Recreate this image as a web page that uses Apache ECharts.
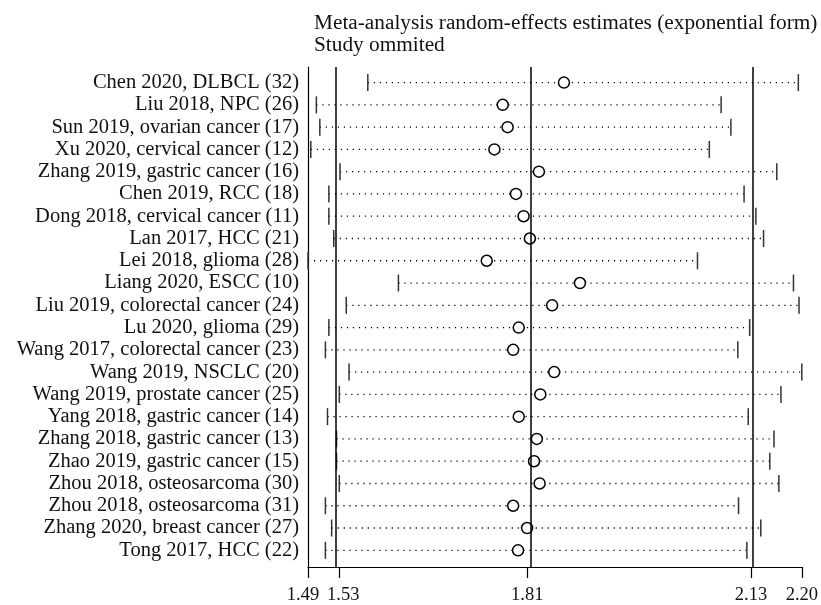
<!DOCTYPE html>
<html>
<head>
<meta charset="utf-8">
<script src="https://cdn.jsdelivr.net/npm/echarts@6/dist/echarts.min.js"></script>
<style>html,body{margin:0;padding:0;background:#fff;}#c{width:821px;height:605px;}</style>
</head>
<body>
<div id="c"></div>
<script>
var studies = ["Chen 2020, DLBCL (32)","Liu 2018, NPC (26)","Sun 2019, ovarian cancer (17)","Xu 2020, cervical cancer (12)","Zhang 2019, gastric cancer (16)","Chen 2019, RCC (18)","Dong 2018, cervical cancer (11)","Lan 2017, HCC (21)","Lei 2018, glioma (28)","Liang 2020, ESCC (10)","Liu 2019, colorectal cancer (24)","Lu 2020, glioma (29)","Wang 2017, colorectal cancer (23)","Wang 2019, NSCLC (20)","Wang 2019, prostate cancer (25)","Yang 2018, gastric cancer (14)","Zhang 2018, gastric cancer (13)","Zhao 2019, gastric cancer (15)","Zhou 2018, osteosarcoma (30)","Zhou 2018, osteosarcoma (31)","Zhang 2020, breast cancer (27)","Tong 2017, HCC (22)"];
var estimate = [1.858,1.770,1.777,1.758,1.822,1.789,1.800,1.809,1.747,1.881,1.841,1.793,1.785,1.844,1.824,1.793,1.819,1.815,1.823,1.785,1.805,1.792];
var lower = [1.576,1.502,1.507,1.494,1.536,1.520,1.520,1.527,1.490,1.620,1.545,1.520,1.515,1.549,1.535,1.518,1.531,1.531,1.535,1.515,1.524,1.515];
var upper = [2.195,2.084,2.098,2.067,2.164,2.117,2.134,2.145,2.050,2.188,2.196,2.125,2.108,2.200,2.170,2.123,2.160,2.154,2.167,2.109,2.141,2.121];
var overall = {lower:1.535, est:1.8052, upper:2.127};
var axisMin = 1.49, axisMax = 2.20;
var xTicks = [1.49, 1.535, 1.8052, 2.127, 2.20];
var titleLines = ["Meta-analysis random-effects estimates (exponential form)","Study ommited"];

var FONT = "Liberation Serif";
var chart = echarts.init(document.getElementById('c'), null, {renderer:'canvas'});
var ciData = studies.map(function(s,i){return [lower[i], upper[i], i+1];});
var estData = studies.map(function(s,i){return [estimate[i], i+1];});
var rowIdx = studies.map(function(s,i){return i+1;});

chart.setOption({
  animation:false,
  backgroundColor:'#fff',
  title:{
    text: titleLines.join('\n'),
    left: 309, top: 7,
    textStyle:{fontFamily:FONT, fontSize:21.3, fontWeight:'normal', color:'#111', lineHeight:22}
  },
  grid:{left:308, right:19, top:67, bottom:37.7, containLabel:false},
  xAxis:{
    type:'value', min:axisMin, max:axisMax,
    axisLine:{show:true, lineStyle:{color:'#000', width:1.2}},
    axisTick:{show:true, length:11, lineStyle:{color:'#000', width:1.2}, customValues:xTicks},
    axisLabel:{
      customValues:xTicks, margin:19, color:'#111', fontFamily:FONT, fontSize:18.5,
      formatter:function(v){
        var t = v.toFixed(2);
        if (Math.abs(v-1.49)<1e-6) return '{l|'+t+'}';
        if (Math.abs(v-1.535)<1e-6) return '{r|'+t+'}';
        return t;
      },
      rich:{
        l:{fontFamily:FONT, fontSize:18.5, color:'#111', padding:[0,10,0,0]},
        r:{fontFamily:FONT, fontSize:18.5, color:'#111', padding:[0,0,0,8]}
      }
    },
    splitLine:{show:false}
  },
  yAxis:{
    type:'value', inverse:true, min:0.3, max:22.75,
    axisLine:{show:true, lineStyle:{color:'#000', width:1.2}},
    axisTick:{show:false},
    axisLabel:{customValues:rowIdx, margin:9, color:'#111', fontFamily:FONT, fontSize:20.5,
      formatter:function(v){return studies[Math.round(v)-1] || '';}},
    splitLine:{show:false}
  },
  series:[
    {
      type:'custom',
      data:ciData,
      encode:{x:[0,1], y:2},
      renderItem:function(params, api){
        var y = api.value(2);
        var p0 = api.coord([api.value(0), y]);
        var p1 = api.coord([api.value(1), y]);
        var h = 8.5;
        return {type:'group', children:[
          {type:'line', shape:{x1:p0[0], y1:p0[1], x2:p1[0], y2:p1[1]},
           style:{stroke:'#000', lineWidth:1.3, lineDash:[1.2,4.8]}},
          {type:'line', shape:{x1:p0[0], y1:p0[1]-h, x2:p0[0], y2:p0[1]+h},
           style:{stroke:'#333', lineWidth:1.5}},
          {type:'line', shape:{x1:p1[0], y1:p1[1]-h, x2:p1[0], y2:p1[1]+h},
           style:{stroke:'#333', lineWidth:1.5}}
        ]};
      },
      z:2
    },
    {
      type:'scatter',
      data:estData,
      symbol:'circle', symbolSize:11,
      itemStyle:{color:'#fff', borderColor:'#000', borderWidth:1.5, opacity:1},
      z:4,
      markLine:{
        silent:true, symbol:'none', label:{show:false},
        lineStyle:{color:'#000', width:1.5, type:'solid'},
        data:[{xAxis:overall.lower},{xAxis:overall.est},{xAxis:overall.upper}]
      }
    }
  ]
});
</script>
</body>
</html>
